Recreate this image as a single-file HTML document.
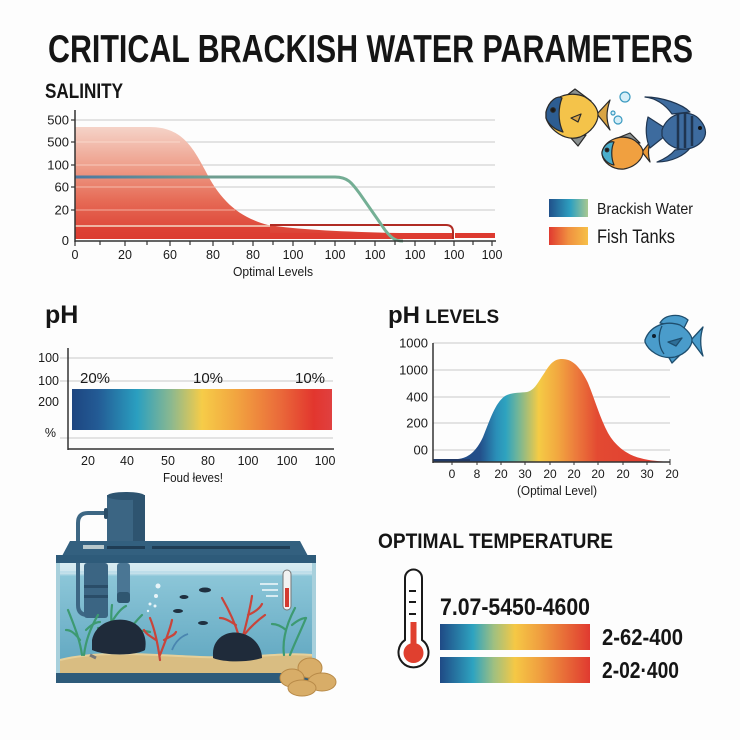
<!DOCTYPE html>
<html><head><meta charset="utf-8"><style>
html,body{margin:0;padding:0;background:#fdfdfd;}
svg{display:block;font-family:"Liberation Sans",sans-serif;}
</style></head><body>
<svg width="740" height="740" viewBox="0 0 740 740" xmlns="http://www.w3.org/2000/svg">
<defs>
<linearGradient id="salArea" x1="0" y1="127" x2="0" y2="241" gradientUnits="userSpaceOnUse">
<stop offset="0" stop-color="#f5d3c8"/><stop offset="0.35" stop-color="#ee9e8a"/><stop offset="0.65" stop-color="#e66a55"/><stop offset="1" stop-color="#da3a2f"/></linearGradient>
<linearGradient id="greenLine" x1="75" y1="0" x2="405" y2="0" gradientUnits="userSpaceOnUse">
<stop offset="0" stop-color="#4a79a2"/><stop offset="0.4" stop-color="#6e9c90"/><stop offset="1" stop-color="#76b496"/></linearGradient>
<linearGradient id="rainbow" x1="0" y1="0" x2="1" y2="0">
<stop offset="0" stop-color="#1d4580"/><stop offset="0.1" stop-color="#235b95"/><stop offset="0.25" stop-color="#2a9fc0"/><stop offset="0.38" stop-color="#8ab890"/><stop offset="0.5" stop-color="#f6cc48"/><stop offset="0.63" stop-color="#f2a540"/><stop offset="0.8" stop-color="#ea6a3a"/><stop offset="0.93" stop-color="#e2362e"/><stop offset="1" stop-color="#e04040"/></linearGradient>
<linearGradient id="phArea" x1="433" y1="0" x2="668" y2="0" gradientUnits="userSpaceOnUse">
<stop offset="0" stop-color="#1f4580"/><stop offset="0.2" stop-color="#234f8a"/><stop offset="0.27" stop-color="#2a8fb8"/><stop offset="0.31" stop-color="#2ea3bf"/><stop offset="0.36" stop-color="#6fb59a"/><stop offset="0.45" stop-color="#f5cb45"/><stop offset="0.53" stop-color="#f2a840"/><stop offset="0.61" stop-color="#ec7a3c"/><stop offset="0.7" stop-color="#e34a32"/><stop offset="1" stop-color="#e03a30"/></linearGradient>
<linearGradient id="tempBar" x1="0" y1="0" x2="1" y2="0">
<stop offset="0" stop-color="#1f4a85"/><stop offset="0.22" stop-color="#2ea3c0"/><stop offset="0.36" stop-color="#a0c080"/><stop offset="0.5" stop-color="#f5c845"/><stop offset="0.66" stop-color="#f0a040"/><stop offset="1" stop-color="#e03a30"/></linearGradient>
<linearGradient id="leg1" x1="0" y1="0" x2="1" y2="0">
<stop offset="0" stop-color="#20508a"/><stop offset="0.55" stop-color="#2ea0c0"/><stop offset="1" stop-color="#a8c890"/></linearGradient>
<linearGradient id="leg2" x1="0" y1="0" x2="1" y2="0">
<stop offset="0" stop-color="#e03a30"/><stop offset="0.5" stop-color="#f09040"/><stop offset="1" stop-color="#f6c048"/></linearGradient>
<linearGradient id="water" x1="0" y1="563" x2="0" y2="673" gradientUnits="userSpaceOnUse">
<stop offset="0" stop-color="#d9ecf2"/><stop offset="0.09" stop-color="#cfe6ee"/><stop offset="0.12" stop-color="#8cc6d8"/><stop offset="1" stop-color="#5ea5bf"/></linearGradient>
</defs>

<!-- Title -->
<text x="48" y="62" font-size="39" font-weight="bold" fill="#151515" textLength="645" lengthAdjust="spacingAndGlyphs">CRITICAL BRACKISH WATER PARAMETERS</text>

<!-- SALINITY -->
<text x="45" y="98" font-size="21" font-weight="bold" fill="#151515" textLength="78" lengthAdjust="spacingAndGlyphs">SALINITY</text>
<g stroke="#d4d4d4" stroke-width="1.2">
<line x1="75" y1="120" x2="495" y2="120"/><line x1="75" y1="142" x2="495" y2="142"/><line x1="75" y1="165" x2="495" y2="165"/><line x1="75" y1="187" x2="495" y2="187"/><line x1="75" y1="210" x2="495" y2="210"/>
</g>
<path d="M75,239 L75,127 L150,127 C180,127 192,145 205,170 C220,200 238,217 268,225 C300,230 350,232 400,233 L453,233 L453,239 Z" fill="url(#salArea)"/>
<rect x="75" y="226" width="195" height="13" fill="#dd3d31" opacity="0.55"/>
<rect x="270" y="233" width="183" height="6" fill="#dd3a30" opacity="0.6"/>
<rect x="455" y="233" width="40" height="5" fill="#dd3a30"/>
<g stroke="rgba(255,235,225,0.45)" stroke-width="1.2">
<line x1="75" y1="142" x2="180" y2="142"/><line x1="75" y1="165" x2="200" y2="165"/><line x1="75" y1="187" x2="215" y2="187"/><line x1="75" y1="210" x2="235" y2="210"/>
</g>
<path d="M270,225 L446,225 Q453,225 453,232 L453,239" fill="none" stroke="#b02c24" stroke-width="2"/>
<line x1="75" y1="226" x2="270" y2="226" stroke="#f3d9c6" stroke-width="1.5"/>
<path d="M75,177 L335,177 C348,177 352,183 360,194 L385,230 C392,239 396,241 403,241" fill="none" stroke="url(#greenLine)" stroke-width="3"/>
<line x1="75" y1="110" x2="75" y2="242" stroke="#333" stroke-width="1.5"/>
<line x1="75" y1="241" x2="496" y2="241" stroke="#333" stroke-width="1.5"/>
<g stroke="#333" stroke-width="1.2">
<line x1="75" y1="241" x2="75" y2="246"/><line x1="100" y1="241" x2="100" y2="245"/><line x1="125" y1="241" x2="125" y2="246"/><line x1="147" y1="241" x2="147" y2="245"/><line x1="170" y1="241" x2="170" y2="246"/><line x1="190" y1="241" x2="190" y2="245"/><line x1="213" y1="241" x2="213" y2="246"/><line x1="233" y1="241" x2="233" y2="245"/><line x1="253" y1="241" x2="253" y2="246"/><line x1="273" y1="241" x2="273" y2="245"/><line x1="293" y1="241" x2="293" y2="246"/><line x1="315" y1="241" x2="315" y2="245"/><line x1="335" y1="241" x2="335" y2="246"/><line x1="355" y1="241" x2="355" y2="245"/><line x1="375" y1="241" x2="375" y2="246"/><line x1="395" y1="241" x2="395" y2="245"/><line x1="415" y1="241" x2="415" y2="246"/><line x1="435" y1="241" x2="435" y2="245"/><line x1="454" y1="241" x2="454" y2="246"/><line x1="473" y1="241" x2="473" y2="245"/><line x1="492" y1="241" x2="492" y2="246"/>
<line x1="71" y1="120" x2="75" y2="120"/><line x1="71" y1="142" x2="75" y2="142"/><line x1="71" y1="165" x2="75" y2="165"/><line x1="71" y1="187" x2="75" y2="187"/><line x1="71" y1="210" x2="75" y2="210"/>
</g>
<g font-size="13" fill="#1a1a1a" text-anchor="end">
<text x="69" y="124.5">500</text><text x="69" y="146.5">500</text><text x="69" y="169.5">100</text><text x="69" y="191.5">60</text><text x="69" y="214.5">20</text><text x="69" y="245">0</text>
</g>
<g font-size="12.5" fill="#1a1a1a" text-anchor="middle">
<text x="75" y="259">0</text><text x="125" y="259">20</text><text x="170" y="259">60</text><text x="213" y="259">80</text><text x="253" y="259">80</text><text x="293" y="259">100</text><text x="335" y="259">100</text><text x="375" y="259">100</text><text x="415" y="259">100</text><text x="454" y="259">100</text><text x="492" y="259">100</text>
</g>
<text x="273" y="276" font-size="13" fill="#1a1a1a" text-anchor="middle" textLength="80" lengthAdjust="spacingAndGlyphs">Optimal Levels</text>

<!-- fish group -->
<g stroke="#2a2a2a" stroke-width="1.2" stroke-linejoin="round">
<path d="M597,114 L610,100 C606,112 606,120 610,130 Z" fill="#d9a444"/>
<path d="M566,96 L575,89 L591,101 Z" fill="#8a9090"/>
<path d="M570,137 L586,135 L578,146 Z" fill="#8a9090"/>
<path d="M546,112 C550,97 570,90 585,97 C595,103 598,110 598,115 C598,122 592,132 580,137 C565,142 550,130 546,118 Z" fill="#f4c34a"/>
<path d="M546,112 C549,100 558,95 562,98 C558,108 558,122 563,132 C555,130 548,124 546,118 Z" fill="#2d5d92"/>
<circle cx="553" cy="110" r="2.3" fill="#1a1a1a"/>
<path d="M571,118 L581,114 L578,122 Z" fill="#d9a444"/>
<path d="M642,152 L650,142 C648,149 648,156 650,162 Z" fill="#e89838"/>
<path d="M615,139 L630,133 L640,143 Z" fill="#8a9090"/>
<path d="M602,152 C605,140 620,134 632,139 C640,143 643,149 643,152 C643,158 636,167 624,169 C612,170 603,162 602,154 Z" fill="#f0a040"/>
<path d="M602,152 C604,144 610,141 614,142 C611,148 611,158 614,165 C608,164 603,159 602,154 Z" fill="#4aaecc"/>
<circle cx="607" cy="150" r="1.8" fill="#1a1a1a"/>
<path d="M672,114 C665,104 655,98 645,97 C662,97 682,104 690,112 Z" fill="#3d6b9e" stroke="#1f3550"/>
<path d="M675,150 C670,156 662,160 657,162 C672,162 685,155 690,148 Z" fill="#3d6b9e" stroke="#1f3550"/>
<path d="M665,128 L648,117 C645,128 646,140 650,148 L665,136 Z" fill="#3d6b9e" stroke="#1f3550"/>
<path d="M662,130 C668,112 690,108 700,120 C706,127 707,134 703,140 C694,152 672,154 662,136 Z" fill="#3d6b9e" stroke="#1f3550"/>
</g>
<g stroke="#1f3550" stroke-width="2.5">
<line x1="678" y1="113" x2="678" y2="148"/><line x1="685" y1="113" x2="685" y2="148"/><line x1="692" y1="116" x2="692" y2="146"/>
</g>
<circle cx="700" cy="128" r="2" fill="#111"/>
<g fill="#d5eef8" stroke="#3a9ac0" stroke-width="1.2">
<circle cx="625" cy="97" r="5"/><circle cx="618" cy="120" r="4"/><circle cx="613" cy="113" r="2"/>
</g>

<!-- legend -->
<rect x="549" y="199" width="39" height="18" fill="url(#leg1)"/>
<text x="597" y="214" font-size="16" fill="#1a1a1a" textLength="96" lengthAdjust="spacingAndGlyphs">Brackish Water</text>
<rect x="549" y="227" width="39" height="18" fill="url(#leg2)"/>
<text x="597" y="243" font-size="19" fill="#1a1a1a" textLength="78" lengthAdjust="spacingAndGlyphs">Fish Tanks</text>

<!-- pH -->
<text x="45" y="323" font-size="25" font-weight="bold" fill="#151515">pH</text>
<g stroke="#d4d4d4" stroke-width="1.2">
<line x1="60" y1="358" x2="333" y2="358"/><line x1="60" y1="381" x2="333" y2="381"/><line x1="60" y1="438" x2="333" y2="438"/>
</g>
<rect x="72" y="389" width="260" height="41" fill="url(#rainbow)"/>
<line x1="68" y1="348" x2="68" y2="450" stroke="#333" stroke-width="1.5"/>
<line x1="68" y1="449" x2="334" y2="449" stroke="#333" stroke-width="1.5"/>
<g font-size="12.5" fill="#1a1a1a" text-anchor="end">
<text x="59" y="362">100</text><text x="59" y="385">100</text><text x="59" y="406">200</text><text x="56" y="437">%</text>
</g>
<g font-size="15" fill="#1a1a1a">
<text x="80" y="383">20%</text><text x="193" y="383">10%</text><text x="295" y="383">10%</text>
</g>
<g font-size="12.5" fill="#1a1a1a" text-anchor="middle">
<text x="88" y="465">20</text><text x="127" y="465">40</text><text x="168" y="465">50</text><text x="208" y="465">80</text><text x="248" y="465">100</text><text x="287" y="465">100</text><text x="325" y="465">100</text>
</g>
<text x="193" y="482" font-size="13" fill="#1a1a1a" text-anchor="middle" textLength="60" lengthAdjust="spacingAndGlyphs">Foud łeves!</text>

<!-- pH LEVELS -->
<text x="388" y="323" font-weight="bold" fill="#151515"><tspan font-size="24">pH</tspan><tspan font-size="19"> LEVELS</tspan></text>
<g stroke="#d4d4d4" stroke-width="1.2">
<line x1="433" y1="343" x2="670" y2="343"/><line x1="433" y1="370" x2="670" y2="370"/><line x1="433" y1="397" x2="670" y2="397"/><line x1="433" y1="423" x2="670" y2="423"/><line x1="433" y1="450" x2="670" y2="450"/>
</g>
<path d="M433,462 L433,459 L458,459 C468,458 476,452 483,437 C490,420 495,403 505,396 C512,392 520,393 527,392 C535,390 538,382 545,372 C550,364 554,359 562,359 C572,359 580,366 588,383 C595,400 600,418 608,433 C616,447 628,455 640,458 C650,461 660,461 668,462 Z" fill="url(#phArea)"/>
<line x1="433" y1="460" x2="470" y2="460" stroke="#223a66" stroke-width="2"/>
<line x1="433" y1="343" x2="433" y2="463" stroke="#333" stroke-width="1.5"/>
<line x1="433" y1="462" x2="670" y2="462" stroke="#333" stroke-width="1.5"/>
<g stroke="#333" stroke-width="1">
<line x1="452" y1="462" x2="452" y2="465"/><line x1="477" y1="462" x2="477" y2="465"/><line x1="501" y1="462" x2="501" y2="465"/><line x1="525" y1="462" x2="525" y2="465"/><line x1="550" y1="462" x2="550" y2="465"/><line x1="574" y1="462" x2="574" y2="465"/><line x1="598" y1="462" x2="598" y2="465"/><line x1="623" y1="462" x2="623" y2="465"/><line x1="647" y1="462" x2="647" y2="465"/><line x1="670" y1="459" x2="670" y2="465"/>
</g>
<g font-size="13" fill="#1a1a1a" text-anchor="end">
<text x="428" y="347.5">1000</text><text x="428" y="374.5">1000</text><text x="428" y="401.5">400</text><text x="428" y="427.5">200</text><text x="428" y="454.5">00</text>
</g>
<g font-size="12" fill="#1a1a1a" text-anchor="middle">
<text x="452" y="478">0</text><text x="477" y="478">8</text><text x="501" y="478">20</text><text x="525" y="478">30</text><text x="550" y="478">20</text><text x="574" y="478">20</text><text x="598" y="478">20</text><text x="623" y="478">20</text><text x="647" y="478">30</text><text x="672" y="478">20</text>
</g>
<text x="557" y="495" font-size="13" fill="#1a1a1a" text-anchor="middle" textLength="80" lengthAdjust="spacingAndGlyphs">(Optimal Level)</text>

<!-- single fish -->
<g stroke="#1e4e6e" stroke-width="1.3" stroke-linejoin="round" fill="#4a9ccb">
<path d="M691,340 L703,327 C700,336 700,346 703,356 Z"/>
<path d="M660,323 C665,314 680,313 688,320 L684,328 Z"/>
<path d="M668,356 L680,355 L672,363 Z"/>
<path d="M645,340 C650,326 665,320 680,325 C688,330 692,336 692,340 C692,346 686,354 675,357 C660,360 648,350 645,342 Z"/>
<path d="M662,326 C658,334 658,346 664,354" fill="none"/>
<path d="M668,342 L682,338 L676,346 Z" fill="#2e6f98"/>
</g>
<circle cx="654" cy="336" r="2" fill="#0f2030"/>

<!-- OPTIMAL TEMPERATURE -->
<text x="378" y="548" font-size="21.5" font-weight="bold" fill="#151515" textLength="235" lengthAdjust="spacingAndGlyphs">OPTIMAL TEMPERATURE</text>
<path d="M405,578 A8.5,8.5 0 0 1 422,578 L422,640 A15,15 0 1 1 405,640 Z" fill="#fff" stroke="#1a1a1a" stroke-width="2"/>
<rect x="410.5" y="622" width="6" height="28" fill="#e0402f"/>
<circle cx="413.5" cy="653" r="10" fill="#e0402f"/>
<g stroke="#1a1a1a" stroke-width="2"><line x1="409" y1="591" x2="416" y2="591"/><line x1="409" y1="602" x2="416" y2="602"/><line x1="409" y1="614" x2="416" y2="614"/></g>
<text x="440" y="615" font-size="24" font-weight="bold" fill="#151515" textLength="150" lengthAdjust="spacingAndGlyphs">7.07-5450-4600</text>
<rect x="440" y="624" width="150" height="26" fill="url(#tempBar)"/>
<rect x="440" y="657" width="150" height="26" fill="url(#tempBar)"/>
<text x="602" y="645" font-size="23" font-weight="bold" fill="#151515" textLength="81" lengthAdjust="spacingAndGlyphs">2-62-400</text>
<text x="602" y="678" font-size="23" font-weight="bold" fill="#151515" textLength="77" lengthAdjust="spacingAndGlyphs">2-02·400</text>

<!-- Aquarium -->
<path d="M107,513 L88,513 Q78,513 78,523 L78,556" fill="none" stroke="#3d6784" stroke-width="4"/>
<rect x="107" y="495" width="38" height="46" fill="#3b6583"/>
<rect x="133" y="495" width="12" height="46" fill="#2e5470"/>
<ellipse cx="126" cy="496" rx="19" ry="4" fill="#2e5470"/>
<rect x="104" y="508" width="4" height="11" rx="2" fill="#2a4d68"/>
<polygon points="62,556 70,541 300,541 308,556" fill="#33607f"/>
<rect x="83" y="545" width="21" height="4" fill="#b8c8cc"/>
<rect x="107" y="546" width="38" height="3" fill="#1f3d55"/>
<rect x="152" y="546" width="138" height="3" fill="#1f3d55"/>
<rect x="56" y="555" width="260" height="8" fill="#2e5b7a"/>
<rect x="58" y="563" width="256" height="110" fill="url(#water)"/>
<line x1="60" y1="572" x2="312" y2="572" stroke="#b8dce8" stroke-width="1.5"/>
<path d="M60,660 C100,650 150,655 200,657 C250,659 280,652 312,655 L312,673 L60,673 Z" fill="#d9bd82"/>
<path d="M60,660 C100,650 150,655 200,657 C250,659 280,652 312,655" fill="none" stroke="#e6d09a" stroke-width="2"/>
<path d="M78,563 L78,605 Q78,615 88,615" fill="none" stroke="#3d6784" stroke-width="4"/>
<rect x="84" y="563" width="24" height="55" rx="3" fill="#3b6583"/>
<rect x="84" y="585" width="24" height="3" fill="#2a4d68"/>
<rect x="84" y="595" width="24" height="3" fill="#2a4d68"/>
<rect x="117" y="563" width="13" height="40" rx="3" fill="#4a7694"/>
<rect x="117" y="592" width="13" height="11" rx="3" fill="#2f5670"/>
<!-- plants -->
<g fill="none" stroke="#3d9a72" stroke-width="2.2" stroke-linecap="round">
<path d="M82,655 C80,640 74,625 68,610"/><path d="M84,655 C86,638 92,625 98,615"/><path d="M80,640 C74,632 70,630 66,630"/><path d="M86,630 C92,624 96,622 100,622"/>
<path d="M115,650 C112,635 110,620 112,605"/><path d="M118,650 C125,635 132,625 142,615"/><path d="M120,640 C110,632 104,628 98,628"/><path d="M125,635 C135,630 142,630 150,632"/><path d="M113,620 C118,612 122,608 126,606"/>
<path d="M284,655 C282,640 286,625 295,608"/><path d="M290,655 C296,640 302,628 306,618"/><path d="M286,630 C280,625 276,624 272,624"/><path d="M292,625 C298,620 302,618 306,618"/>
</g>
<path d="M90,655 L96,658" stroke="#777" stroke-width="3"/>
<g fill="none" stroke="#c9443a" stroke-width="2.2" stroke-linecap="round">
<path d="M160,660 C158,645 155,630 150,618"/><path d="M160,655 C165,642 170,630 172,620"/><path d="M156,640 C150,636 146,634 144,630"/><path d="M164,640 C170,636 174,636 176,632"/>
<path d="M240,640 C236,625 230,612 222,598"/><path d="M242,640 C246,625 250,610 252,596"/><path d="M244,635 C252,625 258,620 265,615"/><path d="M236,625 C228,620 224,618 220,618"/><path d="M248,615 C255,612 260,608 262,604"/>
</g>
<path d="M172,650 C176,640 182,636 188,634" fill="none" stroke="#4a86b0" stroke-width="1.8"/>
<path d="M92,640 C95,625 110,618 125,620 C140,622 148,635 145,650 C135,656 105,656 92,650 Z" fill="#1f2b3a"/>
<path d="M213,655 C212,640 225,630 240,633 C255,636 262,648 262,658 C250,662 225,663 213,658 Z" fill="#1f2b3a"/>
<g fill="#1f3040">
<ellipse cx="205" cy="590" rx="6" ry="2.5"/><ellipse cx="184" cy="597" rx="4.5" ry="2"/><ellipse cx="178" cy="611" rx="5" ry="2"/><ellipse cx="203" cy="623" rx="5" ry="2"/>
</g>
<g fill="#e8f4f8">
<circle cx="158" cy="586" r="2.5"/><circle cx="156" cy="596" r="2"/><circle cx="150" cy="604" r="1.5"/><circle cx="155" cy="606" r="1.5"/><circle cx="148" cy="611" r="1.2"/>
</g>
<g stroke="#d8ecf2" stroke-width="2"><line x1="260" y1="584" x2="278" y2="584"/><line x1="262" y1="590" x2="278" y2="590"/><line x1="266" y1="596" x2="278" y2="596"/></g>
<rect x="283" y="570" width="8" height="40" rx="4" fill="#f2f2f2" stroke="#777" stroke-width="1"/>
<rect x="285" y="588" width="4" height="19" fill="#d33a30"/>
<rect x="56" y="563" width="4" height="110" fill="#a8d0dc"/>
<rect x="312" y="563" width="4" height="110" fill="#a8d0dc"/>
<rect x="56" y="673" width="260" height="10" fill="#2e5b7a"/>
<g fill="#d8ad68" stroke="#b88a48" stroke-width="1">
<ellipse cx="310" cy="668" rx="12" ry="10"/><ellipse cx="292" cy="678" rx="12" ry="9"/><ellipse cx="322" cy="682" rx="14" ry="9"/><ellipse cx="302" cy="688" rx="14" ry="8"/>
</g>
</svg>
</body></html>
